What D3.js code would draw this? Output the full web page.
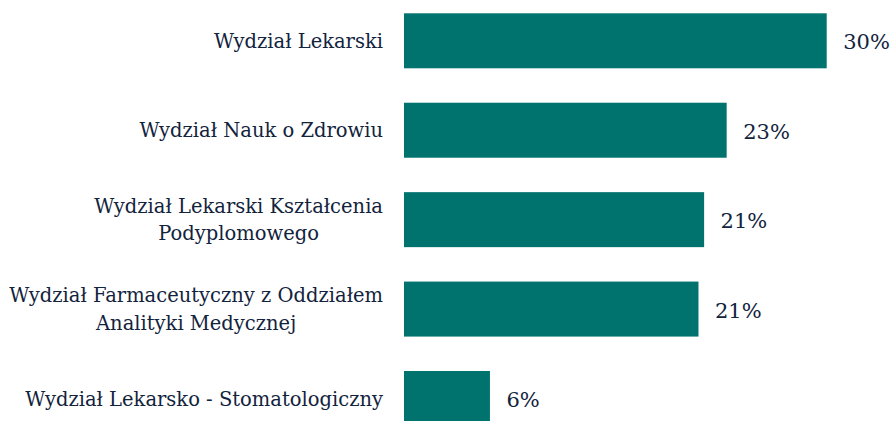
<!DOCTYPE html>
<html>
<head>
<meta charset="utf-8">
<script src="https://cdn.jsdelivr.net/npm/d3@7"></script>
<style>
  html, body { margin: 0; padding: 0; background: #fff; }
  svg { display: block; }
  svg text { font-family: 'DejaVu Serif', 'Liberation Serif', serif; }
</style>
</head>
<body>
<svg id="chart" width="893" height="421"></svg>
<script>
const categories = [
  ['Wydział Lekarski'],
  ['Wydział Nauk o Zdrowiu'],
  ['Wydział Lekarski Kształcenia', 'Podyplomowego'],
  ['Wydział Farmaceutyczny z Oddziałem', 'Analityki Medycznej'],
  ['Wydział Lekarsko - Stomatologiczny']
]
const values = [30, 22.9, 21.3, 20.9, 6.1]
const valueLabels = ['30%', '23%', '21%', '21%', '6%']

const svg = d3.select('#chart')
const textColor = '#12233d'
const barColor = '#00736f'

const x = d3.scaleLinear()
    .domain([0, 30])
    .range([404, 826.7])

const y = d3.scaleBand()
    .domain(d3.range(values.length))
    .range([13.3, 426])
    .paddingInner(0.385)
    .paddingOuter(0)

const rows = svg.selectAll('g.row')
  .data(values)
  .enter().append('g')
    .attr('class', 'row')

rows.append('rect')
    .attr('x', x(0))
    .attr('y', (d, i) => y(i))
    .attr('width', d => x(d) - x(0))
    .attr('height', y.bandwidth())
    .attr('fill', barColor)

rows.append('text')
    .attr('x', d => x(d) + 16.5)
    .attr('y', (d, i) => y(i) + y.bandwidth() / 2 + 8.5)
    .attr('font-size', 21)
    .attr('fill', textColor)
    .text((d, i) => valueLabels[i])

// category labels: block is right aligned, lines inside it are centred
const lineH = 27.5
const labelRight = 383
rows.append('text')
    .attr('text-anchor', 'middle')
    .attr('font-size', 19.5)
    .attr('fill', textColor)
    .each(function(d, i) {
      const lines = categories[i]
      const cy = y(i) + y.bandwidth() / 2 + 7
      const top = cy - (lines.length - 1) * lineH / 2
      const spans = d3.select(this).selectAll('tspan')
        .data(lines)
        .enter().append('tspan')
          .attr('y', (l, j) => top + j * lineH)
          .text(l => l)
      const maxW = d3.max(spans.nodes(), n => n.getComputedTextLength())
      spans.attr('x', labelRight - maxW / 2)
    })
</script>
</body>
</html>
